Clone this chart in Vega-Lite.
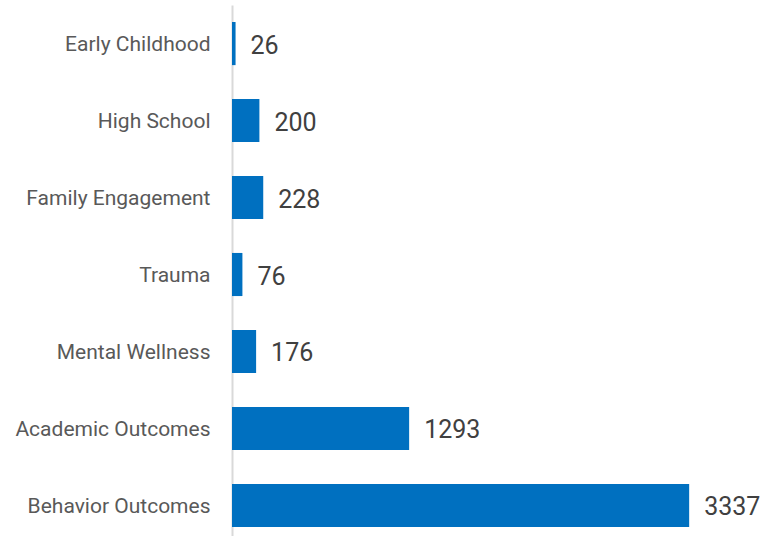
{
  "$schema": "https://vega.github.io/schema/vega-lite/v6.json",
  "autosize": {"type": "none"},
  "padding": {"left": 232, "top": 5, "right": 0, "bottom": 0},
  "width": 548,
  "height": 531,
  "background": "white",
  "config": {"view": {"stroke": null}},
  "data": {
    "values": [
      {"category": "Early Childhood", "count": 26},
      {"category": "High School", "count": 200},
      {"category": "Family Engagement", "count": 228},
      {"category": "Trauma", "count": 76},
      {"category": "Mental Wellness", "count": 176},
      {"category": "Academic Outcomes", "count": 1293},
      {"category": "Behavior Outcomes", "count": 3337}
    ]
  },
  "encoding": {
    "y": {
      "field": "category",
      "type": "nominal",
      "sort": null,
      "scale": {"paddingInner": 0.44, "paddingOuter": 0.169, "align": 0.654},
      "axis": {
        "title": null,
        "ticks": false,
        "labelPadding": 22,
        "labelOffset": 1.5,
        "labelFont": "Roboto",
        "labelFontSize": 21,
        "labelColor": "#595959",
        "domainColor": "#d9d9d9",
        "domainWidth": 2,
        "labelLimit": 300
      }
    },
    "x": {
      "field": "count",
      "type": "quantitative",
      "scale": {"domain": [0, 4000], "nice": false},
      "axis": null
    }
  },
  "layer": [
    {"mark": {"type": "bar", "color": "#0070C0"}},
    {
      "mark": {
        "type": "text",
        "align": "left",
        "baseline": "middle",
        "dx": 15,
        "dy": 2,
        "font": "Roboto",
        "fontSize": 25,
        "color": "#404040"
      },
      "encoding": {"text": {"field": "count", "type": "quantitative"}}
    }
  ]
}
